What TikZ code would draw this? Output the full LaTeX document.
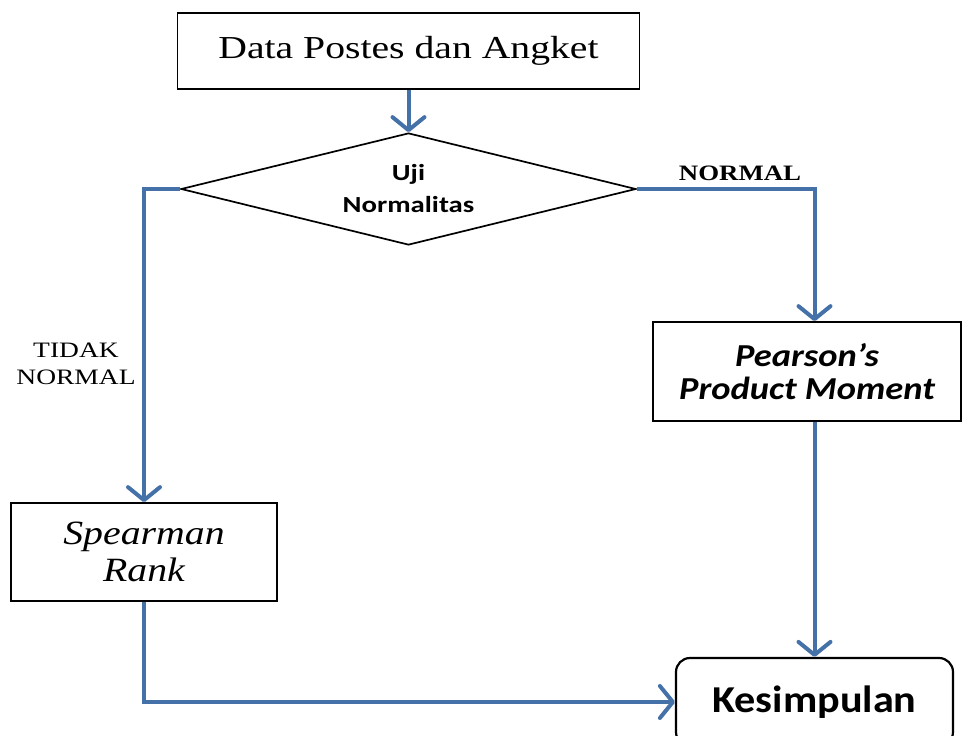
\documentclass[tikz,border=0pt]{standalone}
\usepackage{fontspec}
\usepackage{graphicx}
\setmainfont{Liberation Serif}
\newfontfamily\carl{Carlito}
\usetikzlibrary{shapes.geometric,arrows.meta}
\definecolor{flow}{RGB}{68,114,168}
\newcommand{\sx}[2]{\scalebox{#1}[1]{#2}}
\begin{document}
\begin{tikzpicture}[x=1pt,y=-1pt,
  box/.style={draw=black,line width=1.7pt,inner sep=0pt,align=center},
  flowline/.style={draw=flow,line width=4pt},
  arr/.style={-{Straight Barb[length=13pt,width=32pt,round]}}]
\useasboundingbox (0,0) rectangle (962,736);
\clip (0,0) rectangle (962,736);
% nodes
\node[box,minimum width=462pt,minimum height=76pt,font=\fontsize{32}{34}\selectfont] (top) at (408.5,51) {\sx{1.24}{Data Postes dan Angket}};
\node[diamond,box,aspect=4.06,minimum width=455pt,minimum height=112pt,font=\carl\bfseries\fontsize{23}{32}\selectfont] (dia) at (408.5,189) {\sx{1.25}{Uji}\\\sx{1.25}{Normalitas}};
\node[box,minimum width=308pt,minimum height=99pt,font=\carl\bfseries\itshape\fontsize{32}{33}\selectfont] (pe) at (807,371.5) {\sx{1.14}{Pearson’s}\\\sx{1.14}{Product Moment}};
\node[box,minimum width=266pt,minimum height=98pt,font=\itshape\fontsize{34}{37}\selectfont] (sp) at (144,552) {\sx{1.17}{Spearman}\\\sx{1.17}{Rank}};
\node[draw=black,line width=2.2pt,rounded corners=14pt,inner sep=0pt,minimum width=277pt,minimum height=88pt,font=\carl\bfseries\fontsize{38}{40}\selectfont] (k) at (814.5,702) {\sx{1.11}{Kesimpulan}};
% labels
\node[font=\bfseries\fontsize{22}{24}\selectfont,inner sep=0pt] (nl) at (740,173) {\sx{1.22}{NORMAL}};
\node[font=\fontsize{22}{27}\selectfont,align=center,inner sep=0pt] (tn) at (76,363.5) {\sx{1.25}{TIDAK}\\\sx{1.25}{NORMAL}};
% connectors
\draw[flowline,arr] (top.south) -- (dia.north);
\draw[flowline,arr] (dia.west) -| (sp.north);
\draw[flowline,arr] (dia.east) -| (k.north |- pe.north);
\draw[flowline,arr] (k.north |- pe.south) -- (k.north);
\draw[flowline,arr] (sp.south) |- (k.west);
\end{tikzpicture}
\end{document}
